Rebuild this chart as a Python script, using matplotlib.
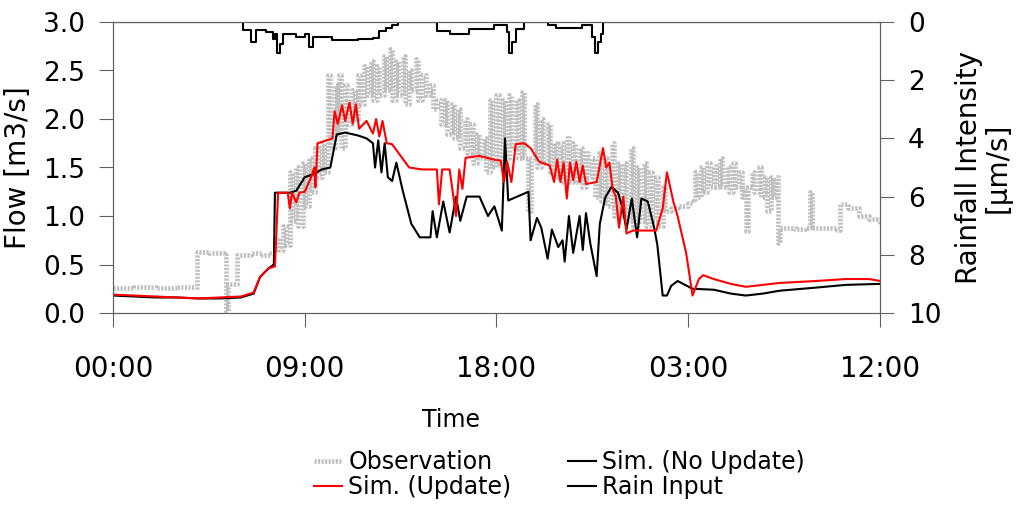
import matplotlib
matplotlib.use("Agg")
import matplotlib.pyplot as plt

# ---------------- data (hours since 00:00 of day 1) ----------------
obs_t = [0.0, 1.0, 2.0, 3.0, 3.9, 3.95, 4.5, 5.2, 5.3, 5.4, 5.75, 5.8, 6.5, 7.0, 7.4,
         7.6, 7.8, 8.0, 8.1, 8.3, 8.4, 8.6, 8.7, 8.9, 9.0, 9.2, 9.3, 9.5, 9.6, 9.8, 9.9,
         10.1, 10.2, 10.4, 10.5, 10.6, 10.7, 10.9, 11.0, 11.2, 11.35, 11.5, 11.6, 11.8,
         11.9, 12.1, 12.2, 12.4, 12.5, 12.7, 12.8, 13.0, 13.1, 13.3, 13.4, 13.6, 13.7,
         13.9, 14.0, 14.2, 14.3, 14.5, 14.7, 14.9, 15.0, 15.2, 15.4, 15.6, 15.7, 15.9,
         16.0, 16.2, 16.3, 16.5, 16.6, 16.8, 16.9, 17.1, 17.2, 17.4, 17.5, 17.7, 17.8,
         18.0, 18.1, 18.3, 18.4, 18.6, 18.7, 18.9, 19.0, 19.2, 19.3, 19.5, 19.6, 19.8,
         19.9, 20.1, 20.2, 20.4, 20.5, 20.7, 20.8, 21.0, 21.1, 21.3, 21.4, 21.6, 21.7,
         21.9, 22.0, 22.2, 22.3, 22.5, 22.6, 22.8, 22.9, 23.1, 23.2, 23.4, 23.5, 23.7,
         23.8, 24.0, 24.1, 24.3, 24.4, 24.6, 24.7, 24.9, 25.0, 25.2, 25.3, 25.5, 25.6,
         25.8, 25.9, 26.2, 26.5, 27.0, 27.2, 27.3, 27.4, 27.6, 27.7, 27.9, 28.0, 28.2,
         28.3, 28.5, 28.6, 28.8, 28.9, 29.1, 29.2, 29.4, 29.5, 29.6, 29.7, 29.8, 30.0,
         30.1, 30.3, 30.4, 30.6, 30.7, 30.9, 31.0, 31.1, 31.2, 31.3, 32.0, 32.5, 32.7,
         32.8, 33.5, 34.0, 34.1, 34.5, 35.0, 35.5, 36.0]
obs_q = [0.26, 0.27, 0.26, 0.27, 0.27, 0.63, 0.62, 0.60, 0.02, 0.30, 0.30, 0.60, 0.62, 0.60, 0.62,
         0.75, 0.65, 0.90, 0.70, 1.45, 0.95, 1.50, 0.90, 1.55, 1.10, 1.60, 1.25, 1.70, 1.40, 1.75, 1.45,
         2.45, 1.70, 2.35, 1.85, 2.45, 1.70, 2.35, 1.95, 2.30, 2.00, 2.45, 2.15, 2.55,
         2.25, 2.60, 2.20, 2.55, 2.25, 2.65, 2.30, 2.72, 2.20, 2.60, 2.25, 2.65, 2.15,
         2.50, 2.30, 2.62, 2.20, 2.45, 2.25, 2.35, 2.10, 2.20, 1.95, 2.20, 1.85, 2.15,
         1.80, 2.10, 1.70, 2.00, 1.65, 1.95, 1.55, 1.85, 1.60, 1.80, 1.45, 2.20, 1.50,
         2.25, 1.55, 2.20, 1.60, 2.25, 1.70, 2.20, 1.60, 2.28, 1.60, 1.05, 1.60, 2.15,
         1.50, 2.00, 1.55, 1.95, 1.45, 1.75, 1.40, 1.75, 1.35, 1.80, 1.35, 1.75, 1.35,
         1.70, 1.30, 1.65, 1.40, 1.60, 1.20, 1.65, 1.15, 1.60, 1.10, 1.75, 1.00, 1.55,
         1.00, 1.55, 0.95, 1.70, 0.90, 1.50, 0.95, 1.55, 0.90, 1.45, 0.95, 1.40, 0.90,
         1.30, 1.05, 1.08, 1.10, 1.13, 1.15, 1.45, 1.20, 1.50, 1.25, 1.55, 1.30, 1.52,
         1.30, 1.60, 1.30, 1.50, 1.25, 1.55, 1.30, 1.45, 1.20, 1.30, 0.85, 1.30, 1.45,
         1.25, 1.50, 1.20, 1.40, 1.05, 1.40, 1.20, 1.40, 0.72, 0.88, 0.87, 0.88, 1.25,
         0.88, 0.88, 0.86, 1.12, 1.08, 1.00, 0.97, 0.92]

noupd_t = [0.0, 1.0, 2.0, 3.0, 4.0, 5.0, 6.0, 6.6, 6.9, 7.3, 7.55, 7.6, 8.3, 8.6, 9.0, 9.4,
           9.8, 10.2, 10.5, 10.9, 11.5, 11.9, 12.2, 12.3, 12.45, 12.6, 12.75, 12.9, 13.1,
           13.3, 13.6, 14.0, 14.4, 14.9, 15.0, 15.2, 15.5, 15.8, 16.1, 16.3, 16.6, 17.2,
           17.6, 17.9, 18.25, 18.4, 18.55, 19.5, 19.6, 19.9, 20.1, 20.4, 20.6, 20.9, 21.1,
           21.2, 21.4, 21.6, 21.9, 22.05, 22.2, 22.4, 22.7, 22.85, 23.1, 23.4, 23.7, 23.9,
           24.1, 24.35, 24.6, 24.8, 25.1, 25.4, 25.55, 25.8, 26.0, 26.2, 26.5, 27.2, 28.2,
           29.0, 29.7, 30.5, 31.3, 32.9, 34.4, 36.0]
noupd_q = [0.18, 0.17, 0.16, 0.16, 0.15, 0.15, 0.16, 0.20, 0.37, 0.46, 0.50, 1.24, 1.24, 1.26, 1.40, 1.43,
           1.48, 1.50, 1.84, 1.86, 1.83, 1.80, 1.75, 1.50, 1.78, 1.45, 1.75, 1.40, 1.36,
           1.55, 1.26, 0.92, 0.78, 0.78, 1.05, 0.78, 1.15, 0.83, 1.20, 0.95, 1.20, 1.20,
           1.00, 1.10, 0.85, 1.80, 1.16, 1.25, 0.75, 0.98, 0.88, 0.56, 0.86, 0.68, 0.75,
           0.53, 1.00, 0.62, 1.00, 0.65, 1.03, 0.72, 0.38, 0.92, 1.19, 1.30, 1.24, 1.10,
           0.86, 1.18, 0.78, 1.18, 1.15, 0.88, 0.70, 0.18, 0.18, 0.28, 0.33, 0.25, 0.24,
           0.20, 0.18, 0.20, 0.23, 0.26, 0.29, 0.30]

upd_t = [0.0, 1.0, 2.0, 3.0, 4.0, 5.0, 6.0, 6.6, 6.9, 7.3, 7.6, 7.75, 8.2, 8.3, 8.4, 8.6,
         8.75, 9.0, 9.3, 9.45, 9.5, 9.6, 10.3, 10.4, 10.55, 10.75, 10.9, 11.1, 11.25, 11.4,
         11.55, 11.9, 12.2, 12.35, 12.5, 12.65, 12.85, 13.1, 13.4, 13.9, 14.5, 15.2, 15.3,
         15.45, 15.8, 16.1, 16.25, 16.4, 16.55, 17.2, 17.9, 18.2, 18.35, 18.5, 18.7, 18.9,
         19.3, 19.6, 20.0, 20.5, 20.7, 20.85, 21.0, 21.15, 21.3, 21.45, 21.6, 21.75, 21.9,
         22.05, 22.2, 22.7, 23.0, 23.15, 23.3, 23.45, 23.6, 23.75, 23.95, 24.1, 24.4, 25.0,
         25.5, 25.8, 26.0, 26.3, 26.5, 26.9, 27.1, 27.2, 27.5, 27.7, 28.2, 29.0, 29.7,
         30.5, 31.3, 33.0, 34.4, 35.5, 36.0]
upd_q = [0.19, 0.18, 0.17, 0.16, 0.15, 0.16, 0.17, 0.21, 0.37, 0.46, 0.48, 1.24, 1.24, 1.08, 1.24, 1.14,
         1.24, 1.25, 1.40, 1.50, 1.30, 1.75, 1.80, 2.08, 1.95, 2.14, 1.98, 2.17, 1.95, 2.15,
         1.90, 1.98, 1.85, 2.00, 1.82, 1.98, 1.75, 1.74, 1.65, 1.50, 1.48, 1.48, 1.12,
         1.48, 1.48, 1.00, 1.48, 1.28, 1.60, 1.62, 1.58, 1.57, 1.35, 1.56, 1.35, 1.74,
         1.75, 1.70, 1.56, 1.52, 1.35, 1.58, 1.35, 1.55, 1.18, 1.55, 1.37, 1.56, 1.35,
         1.52, 1.33, 1.35, 1.70, 1.50, 1.55, 1.28, 1.20, 0.88, 1.20, 0.82, 0.85, 0.85,
         0.85, 1.08, 1.45, 1.15, 1.00, 0.62, 0.33, 0.18, 0.35, 0.39, 0.35, 0.30, 0.27,
         0.29, 0.31, 0.33, 0.35, 0.35, 0.33]

rain_t = [0.0, 6.1, 6.5, 6.7, 7.2, 7.5, 7.6, 7.7, 7.85, 8.0, 8.6, 9.0, 9.2, 9.4, 10.3, 11.0,
          11.5, 12.2, 12.5, 12.8, 13.1, 13.4, 15.2, 15.8, 16.7, 17.9, 18.5, 18.6, 18.75, 18.9,
          19.3, 20.4, 20.8, 22.0, 22.5, 22.6, 22.75, 22.9, 23.0, 36.0]
rain_i = [0.0, 0.27, 0.68, 0.27, 0.35, 0.60, 0.40, 1.07, 0.75, 0.40, 0.50, 0.40, 0.87, 0.50, 0.62, 0.62,
          0.60, 0.55, 0.30, 0.20, 0.10, 0.0, 0.30, 0.40, 0.25, 0.10, 0.35, 1.07, 0.70, 0.25,
          0.0, 0.10, 0.20, 0.10, 0.50, 1.07, 0.70, 0.40, 0.0, 0.0]

tick_pos = [0, 9, 18, 27, 36]
tick_lab = ["00:00", "09:00", "18:00", "03:00", "12:00"]

# ---------------- figure ----------------
W, H = 1024, 511
fig = plt.figure(figsize=(W / 100, H / 100), dpi=100)
ax = fig.add_axes([113 / W, 1 - 313 / H, (880 - 113) / W, (313 - 22) / H])
ax2 = ax.twinx()

# observation: thick grey line with a fine dash so it looks hatched like the original
l_obs, = ax.plot(obs_t, obs_q, color='#c0c0c0', lw=3.4, ls=(0, (0.45, 0.3)),
                 drawstyle='steps-post', label='Observation', zorder=1)
l_no, = ax.plot(noupd_t, noupd_q, color='black', lw=1.5, label='Sim. (No Update)', zorder=2)
l_up, = ax.plot(upd_t, upd_q, color='#ff0000', lw=1.5, label='Sim. (Update)', zorder=3)
l_rain, = ax2.plot(rain_t, rain_i, color='black', lw=1.5, drawstyle='steps-post',
                   label='Rain Input')

spine_c = '#606060'
ax.set_xlim(0, 36)
ax.set_ylim(0, 3)
ax.set_xticks(tick_pos)
ax.set_xticklabels(tick_lab)
ax.set_yticks([0, 0.5, 1.0, 1.5, 2.0, 2.5, 3.0])
ax.set_yticklabels(["0.0", "0.5", "1.0", "1.5", "2.0", "2.5", "3.0"])
ax2.set_ylim(10, 0)
ax2.set_yticks([0, 2, 4, 6, 8, 10])

ax.tick_params(axis='x', direction='out', length=10, pad=20, labelsize=20, color=spine_c)
ax.tick_params(axis='y', direction='out', length=10, pad=10, labelsize=19, color=spine_c)
ax2.tick_params(axis='y', direction='out', length=10, pad=10, labelsize=19, color=spine_c)
for a in (ax, ax2):
    for s in a.spines.values():
        s.set_color(spine_c)

ax.set_ylabel("Flow [m3/s]", fontsize=20, labelpad=8)
ax2.set_ylabel("Rainfall Intensity\n[\u00b5m/s]", fontsize=20, labelpad=10, linespacing=1.0)
fig.text(451 / W, 1 - 420 / H, "Time", ha='center', va='center', fontsize=17)

fig.legend([l_obs, l_up, l_no, l_rain],
           ['Observation', 'Sim. (Update)', 'Sim. (No Update)', 'Rain Input'],
           ncol=2, loc='upper left', bbox_to_anchor=(314 / W, 1 - 450 / H),
           frameon=False, fontsize=17, handlelength=1.2, handletextpad=0.25,
           labelspacing=0.05, columnspacing=2.4, borderpad=0, borderaxespad=0)

fig.savefig("out.png", dpi=100)
